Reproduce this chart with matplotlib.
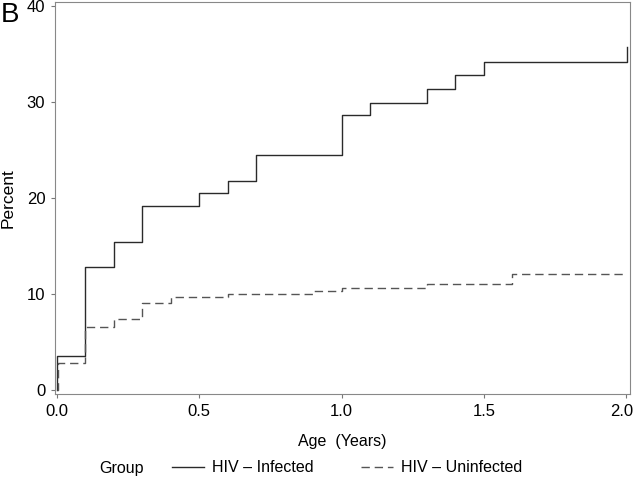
import matplotlib
matplotlib.use("Agg")
import matplotlib.pyplot as plt
import matplotlib.transforms as mtransforms
from matplotlib.lines import Line2D

plt.rcParams['font.family'] = ['Liberation Sans', 'DejaVu Sans']

# Data (cumulative percent by age in years)
age_infected = [0.0, 0.0, 0.1, 0.2, 0.3, 0.5, 0.6, 0.7, 1.0, 1.1, 1.3, 1.4, 1.5, 2.005]
pct_infected = [0.0, 3.5, 12.8, 15.4, 19.2, 20.5, 21.8, 24.5, 28.6, 29.9, 31.3, 32.8, 34.2, 35.7]

age_uninfected = [0.0, 0.005, 0.1, 0.2, 0.3, 0.4, 0.6, 0.9, 1.0, 1.3, 1.6, 2.0]
pct_uninfected = [0.0, 2.8, 6.6, 7.4, 9.1, 9.7, 10.0, 10.3, 10.6, 11.0, 12.05, 12.05]

x_ticks = [0.0, 0.5, 1.0, 1.5, 2.0]
y_ticks = [0, 10, 20, 30, 40]
labels = ["HIV \u2013 Infected", "HIV \u2013 Uninfected"]

fig = plt.figure(figsize=(6.34, 4.8), dpi=100)
ax = fig.add_axes([55/634, 1-394/480, (630-55)/634, (394-2)/480])

ax.step(age_infected, pct_infected, where='post', color='#2a2a2a', lw=1.0,
        linestyle='-')
ax.step(age_uninfected, pct_uninfected, where='post', color='#555555', lw=1.0,
        linestyle=(0, (6, 3.5)))

ax.set_xlim(-0.007, 2.014)
ax.set_ylim(-0.42, 40.4)
ax.set_xticks(x_ticks)
ax.set_xticklabels([f"{v:.1f}" for v in x_ticks])
ax.set_yticks(y_ticks)
ax.tick_params(axis='both', direction='out', length=3, width=0.8, color='#777777',
               labelsize=12, labelcolor='black', pad=4)
for s in ax.spines.values():
    s.set_color('#888888')
    s.set_linewidth(0.8)

# nudge last x tick label so it stays inside the figure
last = ax.get_xticklabels()[-1]
last.set_transform(last.get_transform() +
                   mtransforms.ScaledTranslation(-4/100, 0, fig.dpi_scale_trans))

ax.set_xlabel("Age  (Years)", fontsize=11.5, labelpad=11)
ax.set_ylabel("Percent", fontsize=12.5, labelpad=8)

fig.text(1/634, 1-15/480, "B", fontsize=20, va='center', ha='left')

fig.text(99/634, 1-468/480, "Group", fontsize=11.5, va='center', ha='left')
handles = [Line2D([], [], color='#2a2a2a', lw=1.0, linestyle='-'),
           Line2D([], [], color='#555555', lw=1.0, linestyle=(0, (6, 3.5)))]
fig.legend(handles, labels, loc='center left', bbox_to_anchor=(172/634, 1-468/480),
           ncol=2, frameon=False, fontsize=11.5, handlelength=2.0,
           handletextpad=0.5, columnspacing=3.0, borderpad=0, borderaxespad=0)

fig.savefig("out.png", dpi=100)
